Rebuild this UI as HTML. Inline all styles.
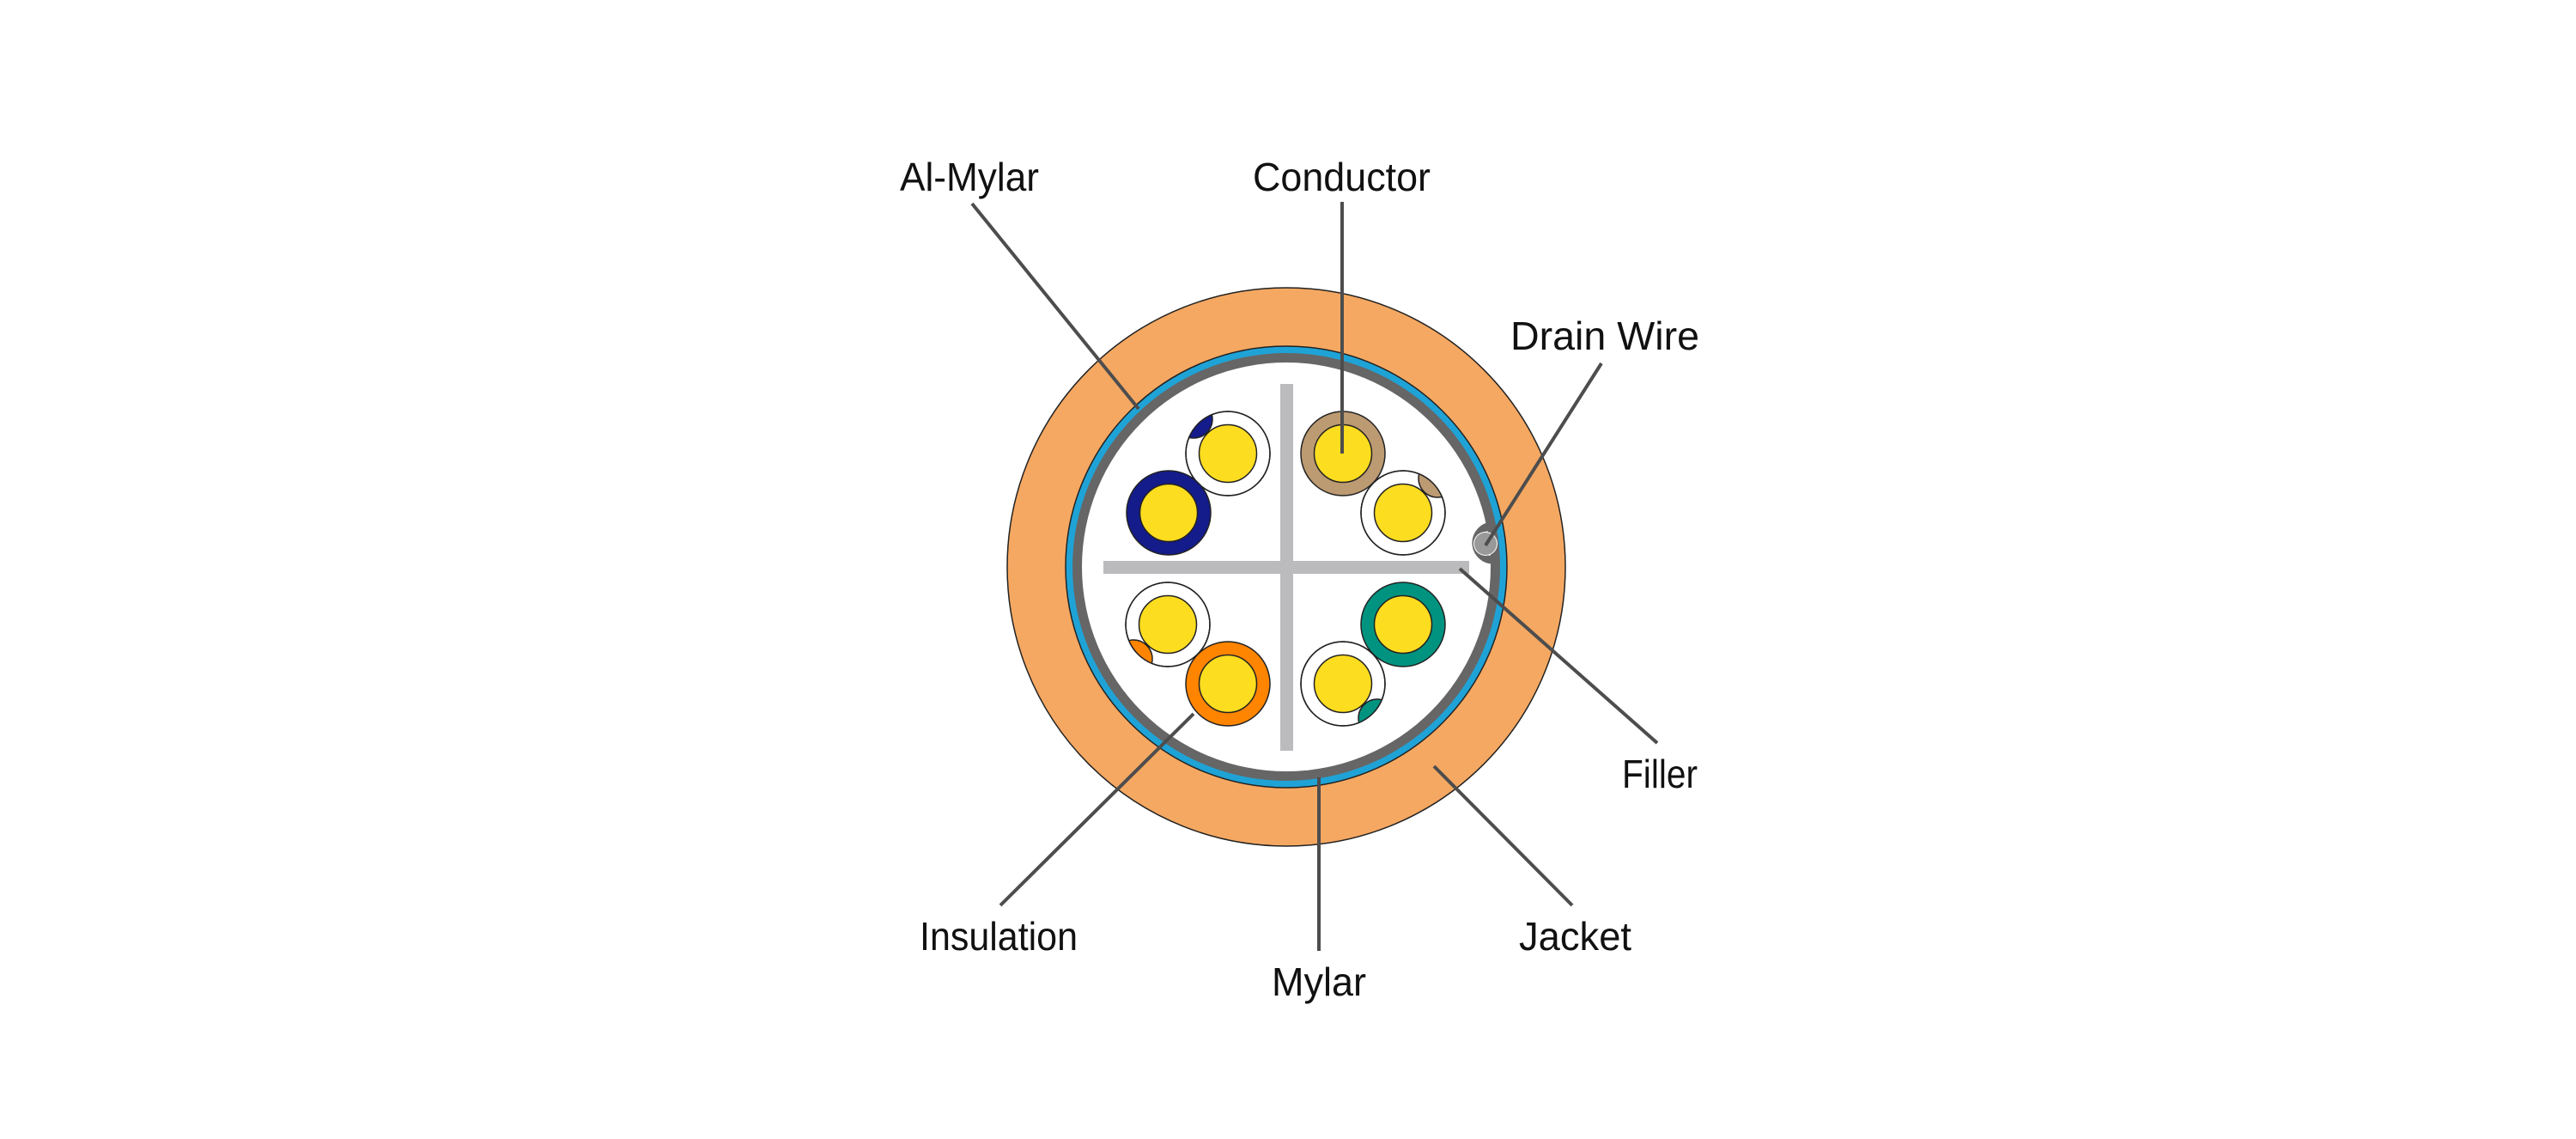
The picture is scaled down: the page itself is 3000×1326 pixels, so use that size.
<!DOCTYPE html>
<html><head><meta charset="utf-8"><style>html,body{margin:0;padding:0;background:#fff}svg{display:block}</style></head>
<body>
<svg width="3000" height="1326" viewBox="0 0 3000 1326" xmlns="http://www.w3.org/2000/svg">
<defs>
<clipPath id="c1"><circle cx="1430" cy="528" r="49"/></clipPath>
<clipPath id="c2"><circle cx="1634" cy="597" r="49"/></clipPath>
<clipPath id="c3"><circle cx="1360" cy="727" r="49"/></clipPath>
<clipPath id="c4"><circle cx="1564" cy="796" r="49"/></clipPath>
</defs>
<circle cx="1498" cy="660" r="325" fill="#f5a862" stroke="#222" stroke-width="1.5"/>
<circle cx="1498" cy="660" r="257" fill="#1fa3d6" stroke="#222" stroke-width="1.5"/>
<circle cx="1498" cy="660" r="249" fill="#666"/>
<circle cx="1498" cy="660" r="238" fill="#fff"/>
<!-- drain wire loop -->
<path d="M1738,612 A19,19 0 1,0 1740,652 L1742,662" fill="none" stroke="#666" stroke-width="9"/>
<circle cx="1730" cy="633" r="14" fill="#fff"/>
<circle cx="1730" cy="633" r="13" fill="#999"/>
<!-- filler cross -->
<rect x="1491" y="447" width="15" height="427" fill="#bbbbbd"/>
<rect x="1285" y="653" width="426" height="15" fill="#bbbbbd"/>
<g stroke="#222" stroke-width="1.5">
<circle cx="1430" cy="528" r="49" fill="#fff"/>
<circle cx="1390" cy="488" r="22" fill="#141b8a" clip-path="url(#c1)"/>
<circle cx="1430" cy="528" r="49" fill="none"/>
<circle cx="1430" cy="528" r="33.5" fill="#fddd1f"/>
<circle cx="1361" cy="597" r="49" fill="#141b8a"/>
<circle cx="1361" cy="597" r="33.5" fill="#fddd1f"/>
<circle cx="1564" cy="528" r="49" fill="#bc9a72"/>
<circle cx="1564" cy="528" r="33.5" fill="#fddd1f"/>
<circle cx="1634" cy="597" r="49" fill="#fff"/>
<circle cx="1674" cy="557" r="22" fill="#bc9a72" clip-path="url(#c2)"/>
<circle cx="1634" cy="597" r="49" fill="none"/>
<circle cx="1634" cy="597" r="33.5" fill="#fddd1f"/>
<circle cx="1360" cy="727" r="49" fill="#fff"/>
<circle cx="1320" cy="767" r="22" fill="#ff8400" clip-path="url(#c3)"/>
<circle cx="1360" cy="727" r="49" fill="none"/>
<circle cx="1360" cy="727" r="33.5" fill="#fddd1f"/>
<circle cx="1430" cy="796" r="49" fill="#ff8400"/>
<circle cx="1430" cy="796" r="33.5" fill="#fddd1f"/>
<circle cx="1634" cy="727" r="49" fill="#009380"/>
<circle cx="1634" cy="727" r="33.5" fill="#fddd1f"/>
<circle cx="1564" cy="796" r="49" fill="#fff"/>
<circle cx="1604" cy="836" r="22" fill="#009380" clip-path="url(#c4)"/>
<circle cx="1564" cy="796" r="49" fill="none"/>
<circle cx="1564" cy="796" r="33.5" fill="#fddd1f"/>
</g>
<g stroke="#4d4d4d" stroke-width="4" fill="none">
<line x1="1132" y1="237" x2="1326" y2="476"/>
<line x1="1563" y1="235" x2="1563" y2="528"/>
<line x1="1865" y1="423" x2="1730" y2="635"/>
<line x1="1930" y1="865" x2="1700" y2="662"/>
<line x1="1831" y1="1054" x2="1670" y2="892"/>
<line x1="1536" y1="905" x2="1536" y2="1107"/>
<line x1="1165" y1="1054" x2="1390" y2="831"/>
</g>
<g font-family="Liberation Sans, sans-serif" font-size="46" fill="#111">
<text x="1048" y="222" textLength="162" lengthAdjust="spacingAndGlyphs">Al-Mylar</text>
<text x="1459" y="222" textLength="207" lengthAdjust="spacingAndGlyphs">Conductor</text>
<text x="1759" y="407" textLength="220" lengthAdjust="spacingAndGlyphs">Drain Wire</text>
<text x="1889" y="917" textLength="88" lengthAdjust="spacingAndGlyphs">Filler</text>
<text x="1071" y="1106" textLength="184" lengthAdjust="spacingAndGlyphs">Insulation</text>
<text x="1769" y="1106" textLength="131" lengthAdjust="spacingAndGlyphs">Jacket</text>
<text x="1481" y="1159" textLength="110" lengthAdjust="spacingAndGlyphs">Mylar</text>
</g>
</svg>
</body></html>
